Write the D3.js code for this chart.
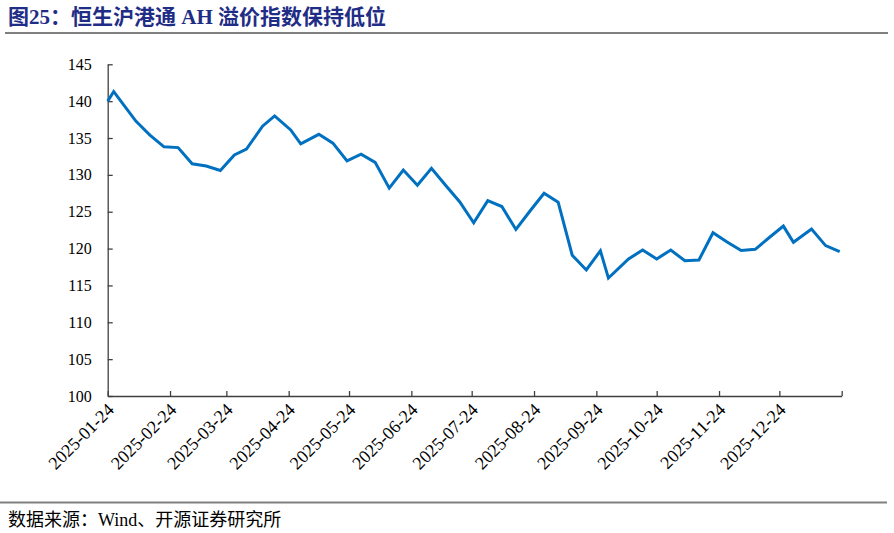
<!DOCTYPE html>
<html>
<head>
<meta charset="utf-8">
<script src="https://cdn.jsdelivr.net/npm/d3@7"></script>
<style>
  html, body { margin: 0; padding: 0; background: #fff; }
  svg { display: block; }
</style>
</head>
<body>
<svg id="chart" width="894" height="533"></svg>
<script>
const titleText = "图25：恒生沪港通 AH 溢价指数保持低位";
const sourceText = "数据来源：Wind、开源证券研究所";

const dates = ["2025-01-24","2025-01-27","2025-02-07","2025-02-14","2025-02-21","2025-02-28",
  "2025-03-07","2025-03-14","2025-03-21","2025-03-28","2025-04-03","2025-04-11","2025-04-17",
  "2025-04-25","2025-04-30","2025-05-09","2025-05-16","2025-05-23","2025-05-30","2025-06-06",
  "2025-06-13","2025-06-20","2025-06-27","2025-07-04","2025-07-11","2025-07-18","2025-07-25",
  "2025-08-01","2025-08-08","2025-08-15","2025-08-22","2025-08-29","2025-09-05","2025-09-12",
  "2025-09-19","2025-09-26","2025-09-30","2025-10-10","2025-10-17","2025-10-24","2025-10-31",
  "2025-11-07","2025-11-14","2025-11-21","2025-11-28","2025-12-05","2025-12-12","2025-12-19",
  "2025-12-26","2025-12-31","2026-01-09","2026-01-16","2026-01-23"];

const premium = [140.0,141.3,137.3,135.4,133.8,133.7,131.5,131.2,130.6,132.7,133.5,136.6,138.0,
  136.1,134.2,135.5,134.3,131.9,132.8,131.7,128.2,130.65,128.6,130.9,128.6,126.35,123.5,
  126.5,125.7,122.6,125.1,127.5,126.3,119.1,117.1,119.7,116.0,118.6,119.8,118.6,119.8,
  118.35,118.45,122.15,120.9,119.75,119.9,121.5,123.05,120.85,122.65,120.4,119.6];

const xTickDates = ["2025-01-24","2025-02-24","2025-03-24","2025-04-24","2025-05-24","2025-06-24",
  "2025-07-24","2025-08-24","2025-09-24","2025-10-24","2025-11-24","2025-12-24","2026-01-24"];
const xTickLabels = ["2025-01-24","2025-02-24","2025-03-24","2025-04-24","2025-05-24","2025-06-24",
  "2025-07-24","2025-08-24","2025-09-24","2025-10-24","2025-11-24","2025-12-24",""];
const yTicks = [100,105,110,115,120,125,130,135,140,145];

const parse = d3.utcParse("%Y-%m-%d");
const svg = d3.select("#chart");
const serif = "'Liberation Serif','Times New Roman','Noto Sans CJK SC',serif";

// Title
svg.append("text")
  .attr("x", 8).attr("y", 24)
  .attr("font-family", serif)
  .attr("font-size", 21).attr("font-weight", "bold")
  .attr("fill", "#1f2d86")
  .text(titleText);
svg.append("line").attr("x1", 5).attr("x2", 888).attr("y1", 33).attr("y2", 33)
  .attr("stroke", "#808080").attr("stroke-width", 2);

// Scales
const x = d3.scaleUtc().domain([parse("2025-01-24"), parse("2026-01-24")]).range([107.7, 841.7]);
const y = d3.scaleLinear().domain([100, 145]).range([396, 64.3]);

const axisColor = "#404040";

// Y axis
const gy = svg.append("g").attr("transform", "translate(107.7,0)")
  .call(d3.axisLeft(y).tickValues(yTicks).tickSize(-5).tickSizeOuter(0).tickPadding(16));
gy.selectAll("path,line").attr("stroke", axisColor).attr("stroke-width", 1.3);
gy.selectAll("text").attr("font-family", serif).attr("font-size", 16).attr("fill", "#000");

// X axis
const labelMap = new Map(xTickDates.map((d, i) => [+parse(d), xTickLabels[i]]));
const gx = svg.append("g").attr("transform", "translate(0,396)")
  .call(d3.axisBottom(x).tickValues(xTickDates.map(parse)).tickSize(-5).tickSizeOuter(0)
    .tickFormat(d => labelMap.get(+d)));
gx.selectAll("path,line").attr("stroke", axisColor).attr("stroke-width", 1.3);
gx.selectAll("text")
  .attr("font-family", serif).attr("font-size", 18).attr("fill", "#000")
  .attr("text-anchor", "end").attr("dy", null).attr("y", null)
  .attr("transform", "translate(7,15) rotate(-45)");

// Line
const pts = dates.map((d, i) => ({ date: parse(d), v: premium[i] }));
svg.append("path")
  .datum(pts)
  .attr("fill", "none")
  .attr("stroke", "#0070c0")
  .attr("stroke-width", 3)
  .attr("stroke-linejoin", "miter")
  .attr("d", d3.line().x(d => x(d.date)).y(d => y(d.v)));

// Bottom line and source
svg.append("line").attr("x1", 0).attr("x2", 887).attr("y1", 502.5).attr("y2", 502.5)
  .attr("stroke", "#808080").attr("stroke-width", 2);
svg.append("text")
  .attr("x", 8).attr("y", 526)
  .attr("font-family", serif)
  .attr("font-size", 18)
  .attr("fill", "#000")
  .text(sourceText);
</script>
</body>
</html>
